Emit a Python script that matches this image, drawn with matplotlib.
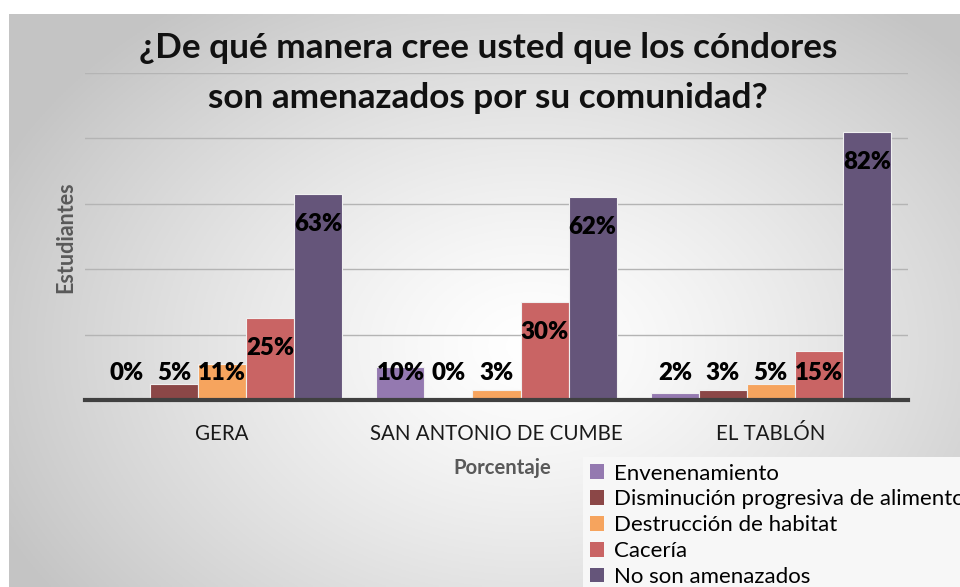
import numpy as np
import matplotlib
matplotlib.use("Agg")
import matplotlib.pyplot as plt
from matplotlib.patches import Patch

categories = ["GERA", "SAN ANTONIO DE CUMBE", "EL TABLÓN"]
series_names = ["Envenenamiento", "Disminución progresiva de alimento",
                "Destrucción de habitat", "Cacería", "No son amenazados"]
envenenamiento = [0, 10, 2]
disminucion = [5, 0, 3]
destruccion = [11, 3, 5]
caceria = [25, 30, 15]
no_amenazados = [63, 62, 82]
values = [envenenamiento, disminucion, destruccion, caceria, no_amenazados]
colors = ["#9479B0", "#8B4747", "#F6A45E", "#C96464", "#65557A"]

W, H = 960, 587
fig = plt.figure(figsize=(W / 100, H / 100), dpi=100)
fig.patch.set_facecolor("white")
FONT = ["Lato", "DejaVu Sans"]

# background radial gradient
bg = fig.add_axes([9 / W, 0, (W - 9) / W, (H - 14) / H])
bg.set_axis_off()
nx, ny = 400, 240
xx, yy = np.meshgrid(np.linspace(0, 1, nx), np.linspace(0, 1, ny))
cx, cy = 0.55, 0.58
r = np.sqrt(((xx - cx) / 0.62) ** 2 + ((yy - cy) / 0.75) ** 2)
r = np.clip(r, 0, 1)
val = 1.0 - 0.23 * r ** 1.3
img = np.dstack([val, val, val])
bg.imshow(img, aspect="auto", extent=[0, 1, 0, 1], origin="upper")
bg.set_xlim(0, 1)
bg.set_ylim(0, 1)

# main axes
left, right, top, bottom = 85, 908, 73, 400
ax = fig.add_axes([left / W, (H - bottom) / H, (right - left) / W, (bottom - top) / H])
ax.set_facecolor("none")
x = np.arange(len(categories))
w = 0.175
for i, (vals, c) in enumerate(zip(values, colors)):
    pos = x + (i - 2) * w
    ax.bar(pos, vals, width=w, color=c, edgecolor="#f0f0f0", linewidth=0.8, zorder=3)
    for p, v in zip(pos, vals):
        ty = max(v - 9.2, 8.3)
        ax.text(p, ty, f"{v}%", ha="center", va="center", fontsize=17.3,
                fontweight="heavy", family=FONT, color="black", zorder=5)

ax.set_xlim(-0.5, 2.5)
ax.set_ylim(0, 100)
ax.set_yticks([20, 40, 60, 80, 100])
ax.yaxis.grid(True, color="#b4b4b4", linewidth=1.0, zorder=0)
ax.tick_params(axis="y", length=0, labelleft=False)
ax.set_xticks(x)
ax.set_xticklabels(categories, fontsize=14.8, family=FONT, color="#1a1a1a")
ax.tick_params(axis="x", length=0, pad=17)
for s in ["left", "right", "top"]:
    ax.spines[s].set_visible(False)
ax.spines["bottom"].set_color("#404040")
ax.spines["bottom"].set_linewidth(3)
ax.spines["bottom"].set_zorder(6)

# title
fig.text(488 / W, 1 - 73 / H, "¿De qué manera cree usted que los cóndores\nson amenazados por su comunidad?",
         ha="center", va="center", fontsize=25.3, fontweight="bold", family=FONT,
         color="#111111", linespacing=1.72)

# axis labels
fig.text(66 / W, 1 - 237 / H, "Estudiantes", rotation=90, ha="center", va="center",
         fontsize=15.5, fontweight="bold", family=FONT, color="#595959")
fig.text(502 / W, 1 - 468 / H, "Porcentaje", ha="center", va="center",
         fontsize=14.6, fontweight="bold", family=FONT, color="#595959")

# legend
handles = [Patch(facecolor=c, edgecolor="none") for c in colors]
leg = fig.legend(handles, series_names, loc="upper left",
                 bbox_to_anchor=(583 / W, 1 - 457 / H), frameon=True,
                 prop={"family": FONT, "size": 16}, handlelength=0.65, handleheight=0.65,
                 handletextpad=0.45, labelspacing=0.26, borderpad=0.3,
                 fancybox=False, borderaxespad=0)
leg.get_frame().set_facecolor("#f7f7f7")
leg.get_frame().set_edgecolor("none")
leg.get_frame().set_alpha(1)

fig.savefig("out.png", dpi=100, facecolor="white")
